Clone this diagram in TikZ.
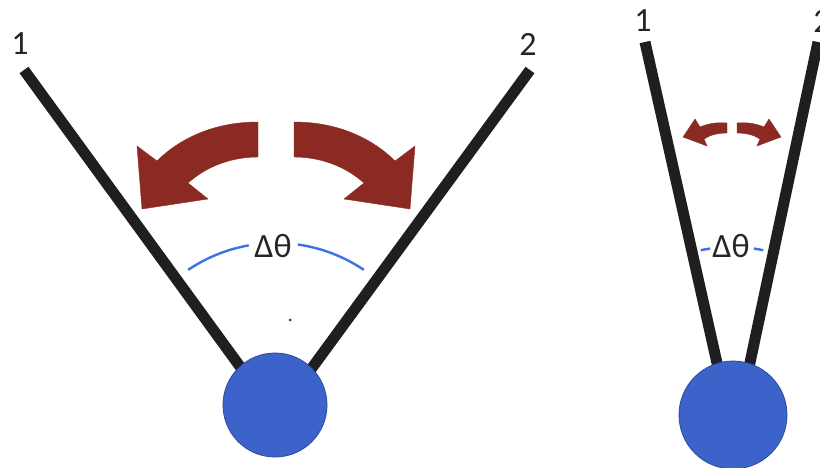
\documentclass[tikz,border=0pt]{standalone}
\usepackage{fontspec}
\setmainfont{Carlito}
\definecolor{rodcol}{HTML}{1F1F22}
\definecolor{ballcol}{HTML}{3B63C9}
\definecolor{balledge}{HTML}{2C4A9A}
\definecolor{arccol}{HTML}{3A72E6}
\definecolor{arrowcol}{HTML}{8A2A22}
\tikzset{
  rod/.style={draw=rodcol, line width=11pt},
  ball/.style={circle, fill=ballcol, draw=balledge, line width=0.8pt, inner sep=0pt},
  angarc/.style={draw=arccol, line width=2.4pt},
  turnarrow/.style={fill=arrowcol, draw=arrowcol, line width=0.4pt, line join=miter},
  lbl/.style={font=\fontsize{34}{38}\selectfont, text=black!85, inner sep=0pt},
}
\begin{document}
\begin{tikzpicture}[x=1pt,y=-1pt]
\useasboundingbox (0,0) rectangle (820,468);
% ---------- left figure ----------
\coordinate (l1top) at (24,70);
\coordinate (l1bot) at (244,372);
\coordinate (l2top) at (530,70);
\coordinate (l2bot) at (309,372);
\draw[rod] (l1top) -- (l1bot);
\draw[rod] (l2top) -- (l2bot);
\node[ball, minimum size=104pt] (ballA) at (275,405) {};
\node[lbl] (labA1) at (20,44) {1};
\node[lbl] (labA2) at (528,44) {2};
\node[lbl] (dthA) at (273,246) {Δθ};
\coordinate (arcA) at (276,400);
\draw[angarc] (arcA) ++(-124:157) arc[start angle=-124, end angle=-100, radius=157];
\draw[angarc] (arcA) ++(-82:157) arc[start angle=-82, end angle=-56, radius=157];
\fill[black!80] (290,320) circle[radius=1.5];
\fill[turnarrow] (258,122) .. controls (212,122) and (178,140) .. (157,161)
  -- (137,146) -- (142,209) -- (208,199) -- (188,183)
  .. controls (207,166) and (232,157) .. (258,157) -- cycle;
\begin{scope}[shift={(552,0)}, xscale=-1]
\fill[turnarrow] (258,122) .. controls (212,122) and (178,140) .. (157,161)
  -- (137,146) -- (142,209) -- (208,199) -- (188,183)
  .. controls (207,166) and (232,157) .. (258,157) -- cycle;
\end{scope}
% ---------- right figure ----------
\coordinate (r1top) at (645,42);
\coordinate (r1bot) at (719,372);
\coordinate (r2top) at (818,42);
\coordinate (r2bot) at (748,372);
\draw[rod] (r1top) -- (r1bot);
\draw[rod] (r2top) -- (r2bot);
\node[ball, minimum size=108pt] (ballB) at (733,415) {};
\node[lbl] (labB1) at (643,21) {1};
\node[lbl] (labB2) at (822,21) {2};
\node[lbl] (dthB) at (731,246) {Δθ};
\coordinate (arcB) at (732,400);
\draw[angarc] (arcB) ++(-101.8:153) arc[start angle=-101.8, end angle=-98.2, radius=153];
\draw[angarc] (arcB) ++(-81.8:153) arc[start angle=-81.8, end angle=-78.2, radius=153];
\fill[turnarrow] (727,123) .. controls (716,122) and (707,124) .. (700,127)
  -- (695,119) -- (683,137) -- (707,146) -- (704,139)
  .. controls (710,135) and (718,133) .. (727,133) -- cycle;
\begin{scope}[shift={(1464,0)}, xscale=-1]
\fill[turnarrow] (727,123) .. controls (716,122) and (707,124) .. (700,127)
  -- (695,119) -- (683,137) -- (707,146) -- (704,139)
  .. controls (710,135) and (718,133) .. (727,133) -- cycle;
\end{scope}
\end{tikzpicture}
\end{document}
